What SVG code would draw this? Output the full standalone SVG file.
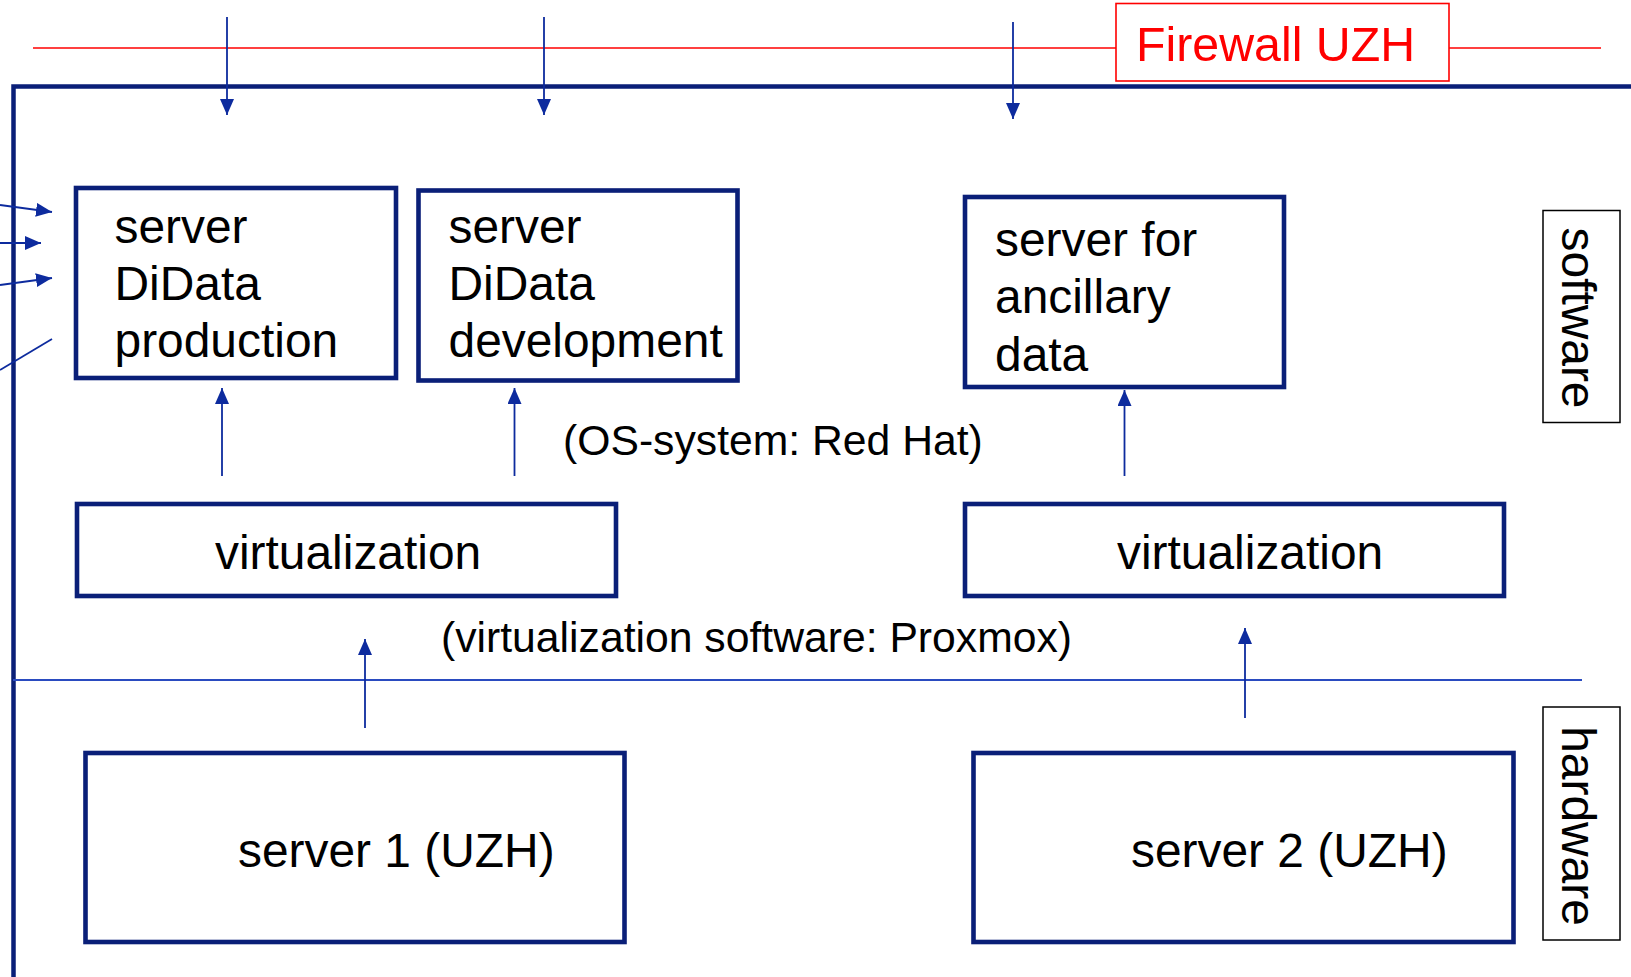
<svg xmlns="http://www.w3.org/2000/svg" width="1631" height="977" viewBox="0 0 1631 977">
  <style>
    text { font-family: "Liberation Sans", Arial, sans-serif; fill: #000; }
    .big { font-size: 47.9px; }
    .note { font-size: 42.7px; }
    .box { fill: #fff; stroke: #0a1f78; stroke-width: 4.6; }
    .tag { fill: #fff; stroke: #000; stroke-width: 1.5; }
    .conn { stroke: #0d2b9e; stroke-width: 1.8; fill: none; }
    .fw { stroke: #ff0000; stroke-width: 1.6; fill: none; }
  </style>
  <defs>
    <marker id="head" markerUnits="userSpaceOnUse" markerWidth="17" markerHeight="15" refX="16" refY="7" orient="auto">
      <path d="M0,0 L16,7 L0,14 Z" fill="#0d2b9e"/>
    </marker>
  </defs>

  <rect width="1631" height="977" fill="#fff"/>

  <!-- firewall line and label -->
  <g id="firewall">
    <line class="fw" x1="33" y1="48" x2="1601" y2="48"/>
    <rect x="1116" y="3.5" width="333" height="77.5" fill="#fff" stroke="#ff0000" stroke-width="1.6"/>
    <text x="1136" y="61" style="font-size:48.3px;fill:#ff0000">Firewall UZH</text>
  </g>

  <!-- outer frame of the system -->
  <path id="frame" d="M13.5,977 V86.5 H1631" fill="none" stroke="#0a1f78" stroke-width="4.5"/>

  <!-- software / hardware divider -->
  <line id="divider" x1="13" y1="680" x2="1582" y2="680" stroke="#2a4bc0" stroke-width="2"/>

  <g id="connectors">
    <!-- incoming through the firewall -->
    <line class="conn" x1="227" y1="17" x2="227" y2="115" marker-end="url(#head)"/>
    <line class="conn" x1="544" y1="17" x2="544" y2="115" marker-end="url(#head)"/>
    <line class="conn" x1="1013" y1="22" x2="1013" y2="119" marker-end="url(#head)"/>
    <!-- incoming from the left -->
    <line class="conn" x1="0" y1="205" x2="52" y2="212" marker-end="url(#head)"/>
    <line class="conn" x1="0" y1="243" x2="41" y2="243" marker-end="url(#head)"/>
    <line class="conn" x1="0" y1="285" x2="52" y2="278" marker-end="url(#head)"/>
    <line class="conn" x1="0" y1="370" x2="52" y2="339"/>
    <!-- virtualization to servers -->
    <line class="conn" x1="222" y1="476" x2="222" y2="388" marker-end="url(#head)"/>
    <line class="conn" x1="514.5" y1="476" x2="514.5" y2="388" marker-end="url(#head)"/>
    <line class="conn" x1="1124.5" y1="476" x2="1124.5" y2="390" marker-end="url(#head)"/>
    <!-- hardware to virtualization -->
    <line class="conn" x1="365" y1="728" x2="365" y2="639" marker-end="url(#head)"/>
    <line class="conn" x1="1245" y1="718" x2="1245" y2="628" marker-end="url(#head)"/>
  </g>

  <g id="server-production">
    <rect class="box" x="76" y="188" width="320" height="190"/>
    <text class="big" x="114.5" y="243">server</text>
    <text class="big" x="114.5" y="300">DiData</text>
    <text class="big" x="114.5" y="357">production</text>
  </g>

  <g id="server-development">
    <rect class="box" x="418.5" y="190.5" width="319" height="190"/>
    <text class="big" x="448.5" y="243">server</text>
    <text class="big" x="448.5" y="300">DiData</text>
    <text class="big" x="448.5" y="357">development</text>
  </g>

  <g id="server-ancillary">
    <rect class="box" x="965" y="197" width="319" height="190"/>
    <text class="big" x="995" y="256">server for</text>
    <text class="big" x="995" y="312.5">ancillary</text>
    <text class="big" x="995" y="371">data</text>
  </g>

  <text id="os-note" class="note" x="563" y="455">(OS-system: Red Hat)</text>

  <g id="virtualization-1">
    <rect class="box" x="77" y="504" width="539" height="92"/>
    <text class="big" x="215" y="569">virtualization</text>
  </g>

  <g id="virtualization-2">
    <rect class="box" x="965" y="504" width="539" height="92"/>
    <text class="big" x="1117" y="569">virtualization</text>
  </g>

  <text id="virt-note" class="note" x="441" y="651.5">(virtualization software: Proxmox)</text>

  <g id="server-1">
    <rect class="box" x="85.5" y="753" width="539" height="189"/>
    <text class="big" x="238" y="867">server 1 (UZH)</text>
  </g>

  <g id="server-2">
    <rect class="box" x="973.5" y="753" width="540" height="189"/>
    <text class="big" x="1131" y="867">server 2 (UZH)</text>
  </g>

  <g id="label-software">
    <rect class="tag" x="1543" y="210.5" width="77" height="212"/>
    <text class="big" x="1562" y="318" text-anchor="middle" transform="rotate(90 1562 318)">software</text>
  </g>

  <g id="label-hardware">
    <rect class="tag" x="1543" y="707" width="77" height="233"/>
    <text class="big" x="1562" y="826" text-anchor="middle" transform="rotate(90 1562 826)">hardware</text>
  </g>
</svg>
